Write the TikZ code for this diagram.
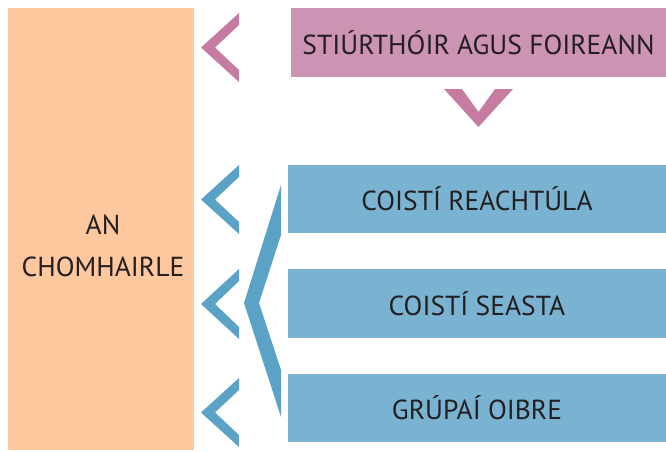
\documentclass[tikz,border=0pt]{standalone}
\usepackage{fontspec}
\setmainfont{PT Sans}
\definecolor{orangebox}{HTML}{FDC89D}
\definecolor{pinkbox}{HTML}{CD93B2}
\definecolor{pinkchev}{HTML}{C57BA2}
\definecolor{bluebox}{HTML}{7AB3D1}
\definecolor{bluechev}{HTML}{5AA3C7}
\definecolor{txt}{HTML}{231F20}
\begin{document}
\begin{tikzpicture}[x=1pt,y=-1pt,
  boxstyle/.style={inner sep=0pt, outer sep=0pt, text=txt, font=\fontsize{27.5}{42}\selectfont, align=center},
  pinkchevstyle/.style={fill=pinkchev, draw=none},
  bluechevstyle/.style={fill=bluechev, draw=none}]
\useasboundingbox (0,0) rectangle (666,451);
% boxes
\node[boxstyle, fill=orangebox, minimum width=186pt, minimum height=442pt] (council) at (101,229) {};
\node[boxstyle, anchor=center] (councillabel) at (103,246) {AN\\CHOMHAIRLE};
\node[boxstyle, fill=pinkbox, minimum width=375pt, minimum height=69pt] (staff) at (478.5,42.5) {STIÚRTHÓIR AGUS FOIREANN};
\node[boxstyle, fill=bluebox, minimum width=378pt, minimum height=68pt] (statcom) at (477,199) {COISTÍ REACHTÚLA};
\node[boxstyle, fill=bluebox, minimum width=378pt, minimum height=69pt] (standcom) at (477,303.5) {COISTÍ SEASTA};
\node[boxstyle, fill=bluebox, minimum width=378pt, minimum height=68pt] (workgrp) at (477,407.5) {GRÚPAÍ OIBRE};
% left chevrons
\fill[pinkchevstyle] (239,13) -- (201,47.5) -- (239,82) -- (239,70) -- (215,47.5) -- (239,25) -- cycle;
\fill[bluechevstyle] (239,165) -- (201,199.5) -- (239,234) -- (239,222) -- (215,199.5) -- (239,177) -- cycle;
\fill[bluechevstyle] (239,269) -- (201,304) -- (239,339) -- (239,327) -- (215,304) -- (239,281) -- cycle;
\fill[bluechevstyle] (239,378) -- (201,412.5) -- (239,447) -- (239,435) -- (215,412.5) -- (239,390) -- cycle;
% down chevron
\fill[pinkchevstyle] (444,89) -- (478.5,127) -- (513,89) -- (495,89) -- (478.5,112) -- (462,89) -- cycle;
% bracket
\fill[bluechevstyle] (281,185) -- (244,303) -- (281,417) -- (281,370) -- (259,303) -- (281,235) -- cycle;
\end{tikzpicture}
\end{document}
